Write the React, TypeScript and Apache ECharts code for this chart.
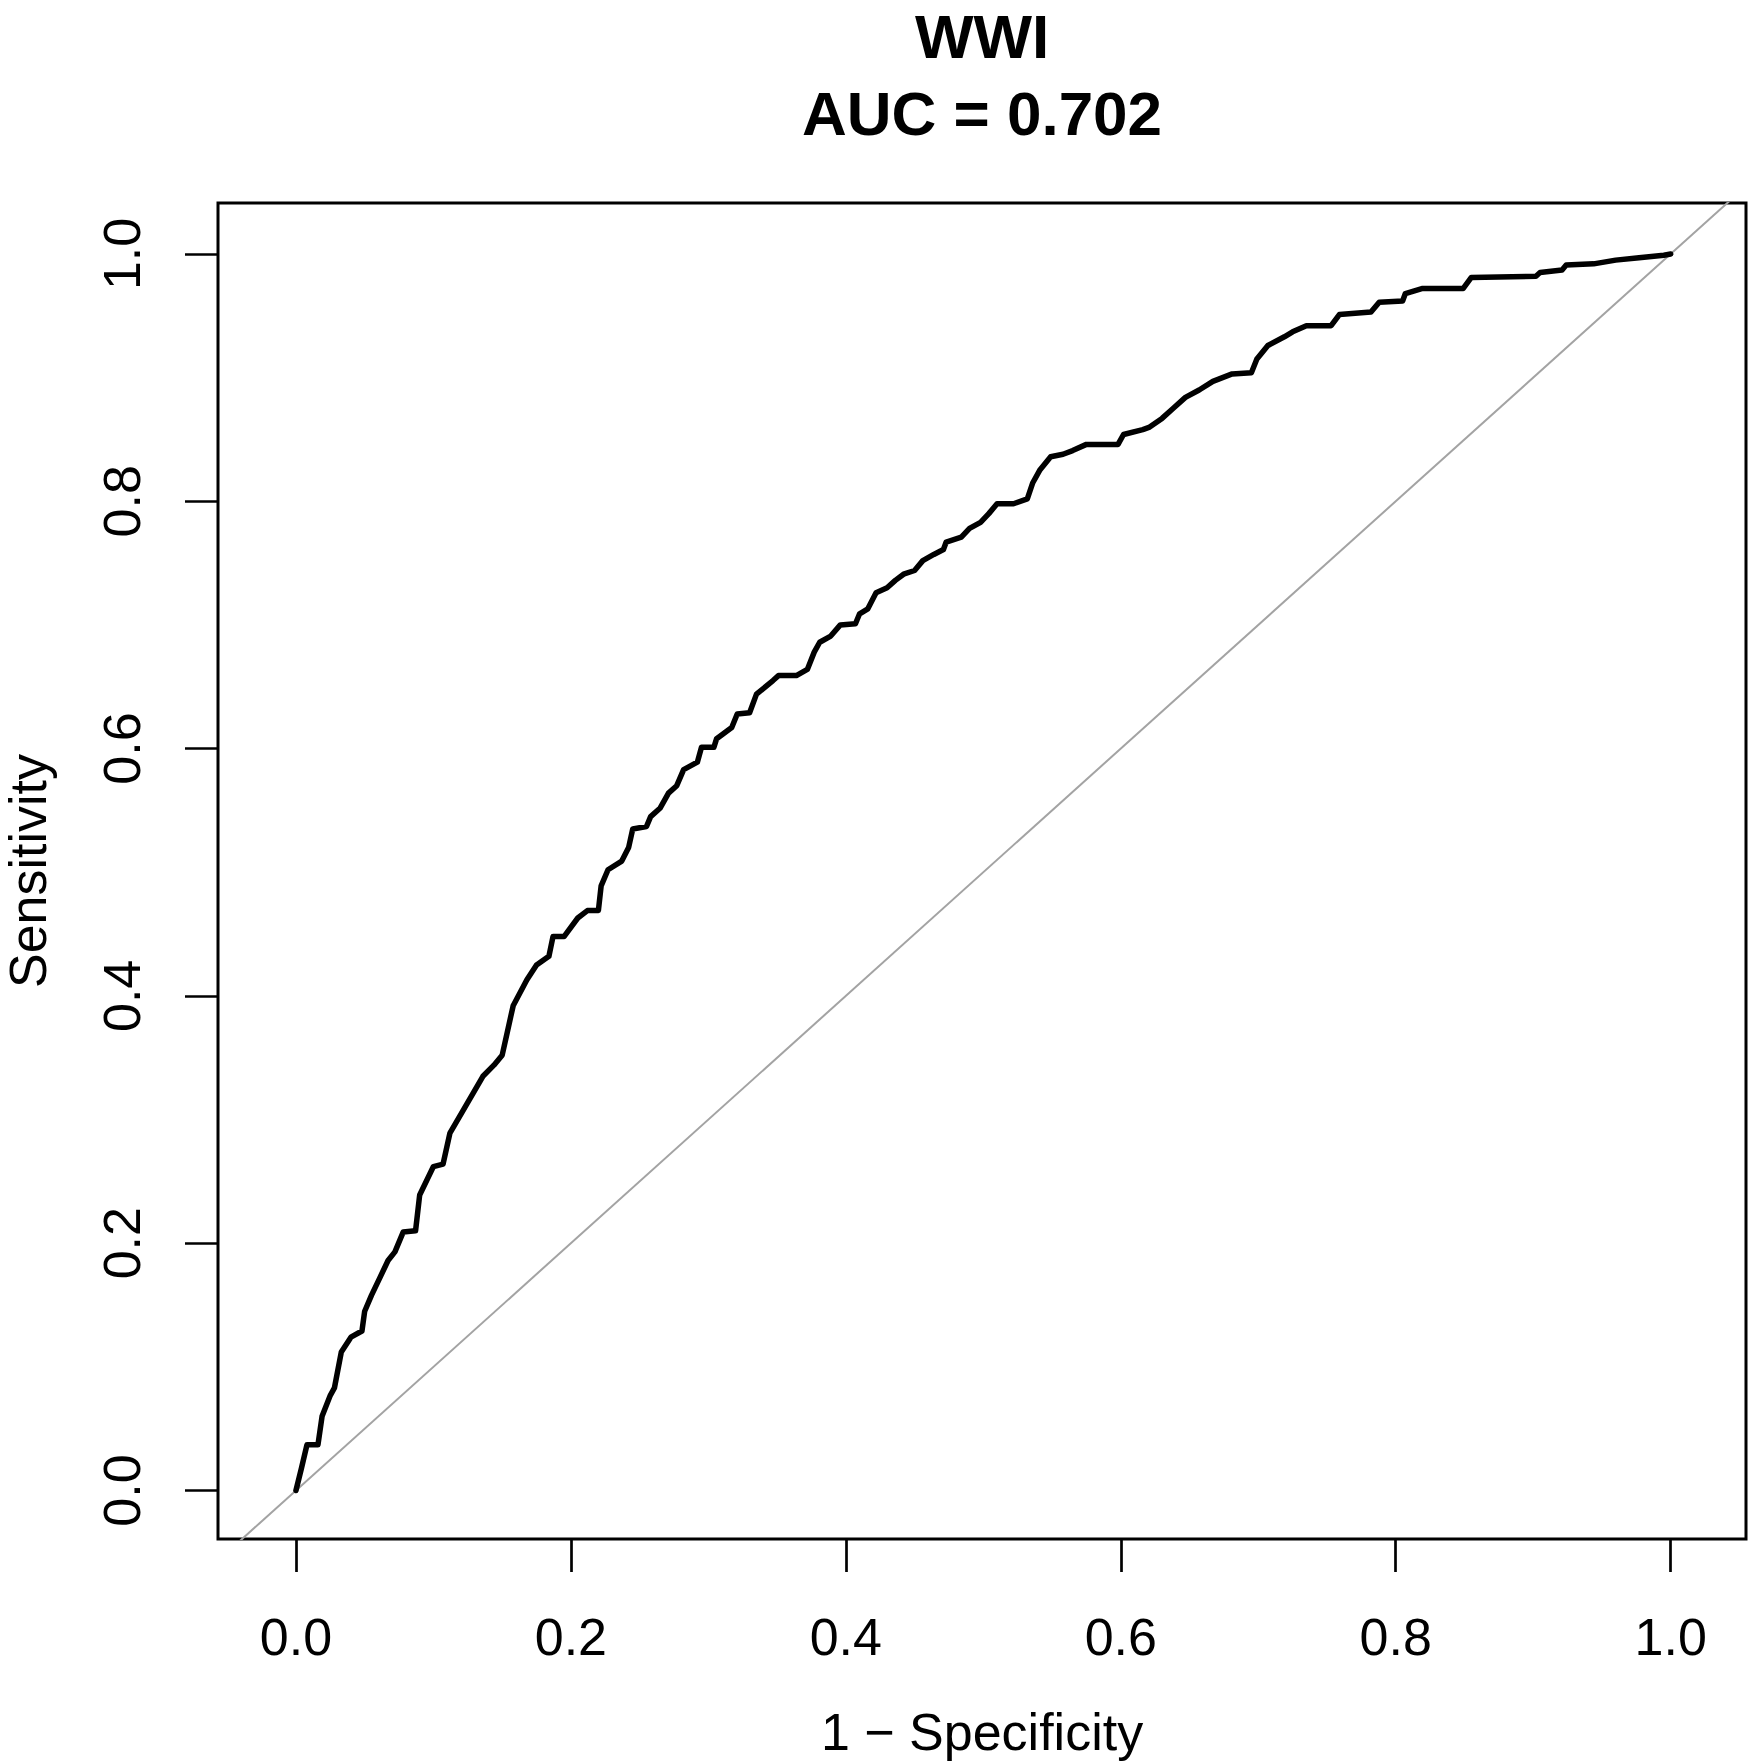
import React, { useEffect, useRef } from "react";
import * as echarts from "echarts";

// ROC curve points (x = 1 - specificity, y = sensitivity)
const fpr = [
  0, 0.004, 0.008, 0.016, 0.019, 0.025, 0.028, 0.033, 0.04, 0.048, 0.05, 0.055,
  0.061, 0.067, 0.072, 0.078, 0.087, 0.09, 0.1, 0.107, 0.112, 0.123, 0.136,
  0.144, 0.15, 0.158, 0.168, 0.175, 0.184, 0.187, 0.195, 0.205, 0.212, 0.22,
  0.222, 0.227, 0.237, 0.242, 0.245, 0.255, 0.258, 0.265, 0.271, 0.277, 0.282,
  0.292, 0.295, 0.304, 0.306, 0.317, 0.321, 0.33, 0.335, 0.347, 0.351, 0.364,
  0.372, 0.377, 0.381, 0.389, 0.396, 0.407, 0.41, 0.416, 0.422, 0.43, 0.436,
  0.442, 0.45, 0.456, 0.464, 0.471, 0.473, 0.484, 0.49, 0.498, 0.504, 0.51,
  0.522, 0.532, 0.536, 0.541, 0.549, 0.558, 0.565, 0.575, 0.598, 0.602, 0.616,
  0.621, 0.63, 0.638, 0.647, 0.657, 0.667, 0.681, 0.695, 0.699, 0.707, 0.719,
  0.725, 0.735, 0.753, 0.759, 0.782, 0.788, 0.805, 0.807, 0.819, 0.849, 0.855,
  0.902, 0.905, 0.921, 0.924, 0.944, 0.96, 0.977, 0.995, 1.0,
];
const tpr = [
  0, 0.018, 0.037, 0.037, 0.06, 0.077, 0.083, 0.112, 0.124, 0.129, 0.145, 0.158,
  0.172, 0.186, 0.193, 0.209, 0.21, 0.239, 0.262, 0.264, 0.289, 0.31, 0.335,
  0.344, 0.352, 0.392, 0.413, 0.425, 0.432, 0.448, 0.448, 0.463, 0.469, 0.469,
  0.489, 0.502, 0.509, 0.52, 0.535, 0.537, 0.545, 0.552, 0.564, 0.57, 0.583,
  0.589, 0.601, 0.601, 0.608, 0.617, 0.628, 0.629, 0.644, 0.655, 0.659, 0.659,
  0.664, 0.678, 0.686, 0.691, 0.7, 0.701, 0.709, 0.713, 0.726, 0.73, 0.736,
  0.741, 0.744, 0.752, 0.757, 0.761, 0.767, 0.771, 0.778, 0.783, 0.79, 0.798,
  0.798, 0.802, 0.815, 0.825, 0.836, 0.838, 0.841, 0.846, 0.846, 0.854, 0.858,
  0.86, 0.867, 0.875, 0.884, 0.89, 0.897, 0.903, 0.904, 0.915, 0.926, 0.933,
  0.937, 0.942, 0.942, 0.951, 0.953, 0.961, 0.962, 0.968, 0.972, 0.972, 0.981,
  0.982, 0.985, 0.987, 0.991, 0.992, 0.995, 0.997, 0.999, 1.0,
];
// chance diagonal (y = x), clipped to the plot box
const diagonal = [-0.1, 1.1];
const tickValues = [0, 0.2, 0.4, 0.6, 0.8, 1.0];
const titleLines = ["WWI", "AUC = 0.702"];
const xName = "1 \u2212 Specificity";
const yName = "Sensitivity";

const FONT = "'Liberation Sans', Arial, Helvetica, sans-serif";

export default function App() {
  const ref = useRef<HTMLDivElement>(null);
  useEffect(() => {
    const chart = echarts.init(ref.current as HTMLDivElement, null, { renderer: "svg" });
    const axisCommon = {
      type: "value",
      axisLine: { show: false, onZero: false },
      splitLine: { show: false },
      axisTick: {
        show: true,
        customValues: tickValues,
        length: 33,
        inside: false,
        lineStyle: { color: "#000", width: 2.7 },
      },
      nameLocation: "middle",
      nameTextStyle: { fontFamily: FONT, fontSize: 52, color: "#000" },
    };
    chart.setOption({
      animation: false,
      backgroundColor: "#ffffff",
      title: {
        text: titleLines.join("\n"),
        left: 982,
        top: -2,
        textAlign: "center",
        padding: 0,
        textStyle: {
          fontFamily: FONT,
          fontSize: 62,
          fontWeight: "bold",
          lineHeight: 77,
          color: "#000",
        },
      },
      grid: {
        left: 218,
        top: 203,
        width: 1528,
        height: 1336,
        containLabel: false,
        outerBoundsMode: "none",
        show: true,
        borderColor: "#000",
        borderWidth: 3,
        backgroundColor: "transparent",
      },
      xAxis: {
        ...axisCommon,
        min: -0.0567,
        max: 1.0548,
        axisLabel: {
          customValues: tickValues,
          formatter: (v: number) => v.toFixed(1),
          fontFamily: FONT,
          fontSize: 52,
          color: "#000",
          margin: 72,
        },
        name: xName,
        nameGap: 167,
      },
      yAxis: {
        ...axisCommon,
        min: -0.0392,
        max: 1.0412,
        axisLabel: {
          customValues: tickValues,
          formatter: (v: number) => v.toFixed(1),
          fontFamily: FONT,
          fontSize: 52,
          color: "#000",
          margin: 70,
          rotate: 90,
        },
        name: yName,
        nameGap: 164,
      },
      series: [
        {
          type: "line",
          data: diagonal.map((v) => [v, v]),
          showSymbol: false,
          silent: true,
          clip: true,
          lineStyle: { color: "#a3a3a3", width: 2 },
        },
        {
          type: "line",
          data: fpr.map((x, i) => [x, tpr[i]]),
          showSymbol: false,
          silent: true,
          clip: false,
          lineStyle: { color: "#000", width: 5.5, join: "round", cap: "round" },
        },
      ],
    });
    return () => chart.dispose();
  }, []);
  return (
    <div
      ref={ref}
      style={{ position: "absolute", left: 0, top: 0, width: 1749, height: 1764 }}
    />
  );
}
